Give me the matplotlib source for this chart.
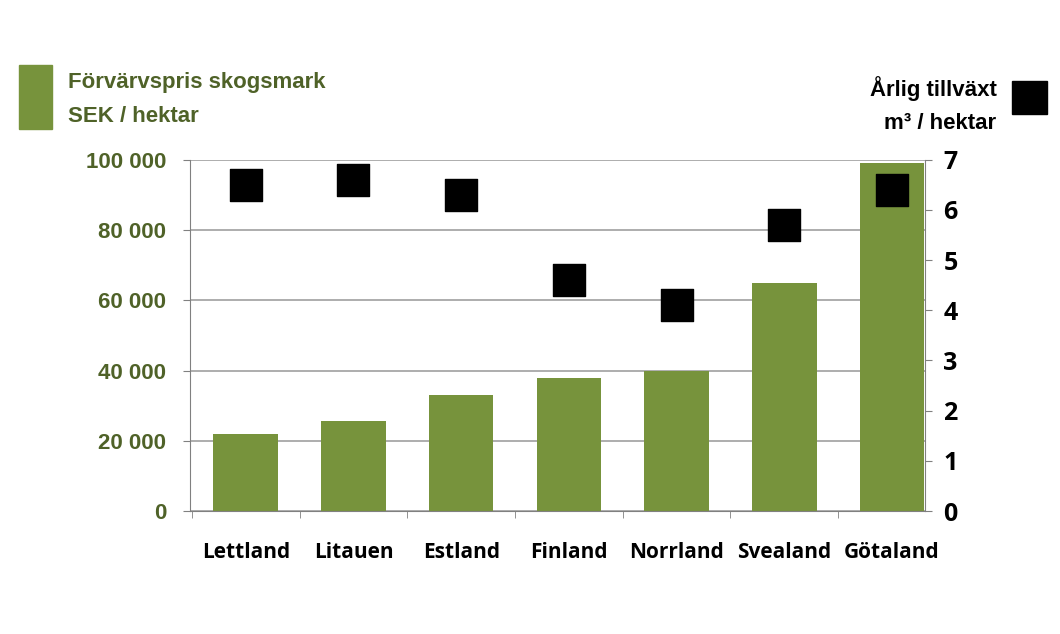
import matplotlib
matplotlib.use("Agg")
import matplotlib.pyplot as plt
from matplotlib.patches import Rectangle

categories = ["Lettland", "Litauen", "Estland", "Finland", "Norrland", "Svealand", "Götaland"]
price = [22000, 25500, 33000, 38000, 40000, 65000, 99000]
growth = [6.5, 6.6, 6.3, 4.6, 4.1, 5.7, 6.4]
left_ticks = [0, 20000, 40000, 60000, 80000, 100000]
left_labels = ["0", "20 000", "40 000", "60 000", "80 000", "100 000"]

green = "#77933c"
dark = "#4f6228"
fig = plt.figure(figsize=(10.6, 6.34), dpi=100)
ax = fig.add_axes([0.179, 0.194, 0.694, 0.554])
x = range(len(categories))
ax.bar(x, price, width=0.6, color=green, zorder=2)
ax.set_ylim(0, 100000)
ax.set_xlim(-0.52, 6.31)
ax.set_yticks(left_ticks)
ax.set_yticklabels(left_labels, color=dark, fontsize=16, fontweight="bold", family="Liberation Sans")
ax.yaxis.grid(True, color="#a0a0a0", lw=1.2, zorder=0)
ax.set_xticks(list(x))
ax.set_xticklabels(categories, fontsize=15, fontweight="bold", family="Open Sans")
ax.set_xticks([i - 0.5 for i in range(7)], minor=True)
ax.tick_params(axis="x", which="major", length=0, pad=22)
ax.tick_params(axis="x", which="minor", length=5, color="#808080")
ax.tick_params(axis="y", length=5, color="#808080", pad=12)
for s in ["top", "right"]:
    ax.spines[s].set_visible(False)
ax.spines["left"].set_color("#808080")
ax.spines["bottom"].set_color("#808080")

ax2 = ax.twinx()
ax2.set_ylim(0, 7)
ax2.scatter(list(x), growth, marker="s", s=520, color="black", zorder=3)
ax2.set_yticks(range(8))
ax2.set_yticklabels([str(i) for i in range(8)], fontsize=18, fontweight="bold", family="Open Sans")
ax2.tick_params(axis="y", length=5, color="#808080", pad=8)
for s in ["top", "left", "bottom"]:
    ax2.spines[s].set_visible(False)
ax2.spines["right"].set_color("#808080")

fig.patches.append(Rectangle((0.018, 0.797), 0.031, 0.1, transform=fig.transFigure, color=green))
fig.text(0.064, 0.87, "Förvärvspris skogsmark", color=dark, fontsize=16, fontweight="bold", va="center", family="Liberation Sans")
fig.text(0.064, 0.817, "SEK / hektar", color=dark, fontsize=16, fontweight="bold", va="center", family="Liberation Sans")
fig.text(0.94, 0.86, "Årlig tillväxt", fontsize=16, fontweight="bold", ha="right", va="center", family="Liberation Sans")
fig.text(0.94, 0.805, "m³ / hektar", fontsize=16, fontweight="bold", ha="right", va="center", family="Liberation Sans")
fig.patches.append(Rectangle((0.955, 0.82), 0.033, 0.052, transform=fig.transFigure, color="black"))
fig.savefig("out.png", dpi=100)
